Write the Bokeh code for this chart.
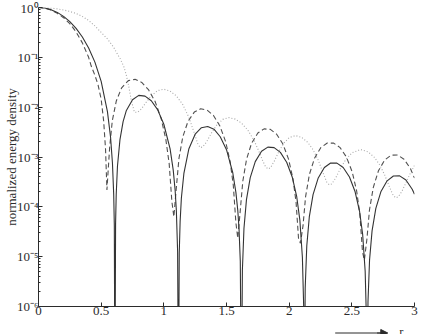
import numpy as np
from bokeh.plotting import figure
from bokeh.layouts import column
from bokeh.models import (Range1d, FixedTicker, CustomJSTickFormatter, Label,
                          Arrow, NormalHead, ColumnDataSource)
from bokeh.embed import file_html
from bokeh.resources import INLINE

# ---- data (log10 of normalized energy density) ----
solid_r = [0, 0.05, 0.1, 0.15, 0.2, 0.25, 0.3, 0.35, 0.4, 0.45, 0.5, 0.55, 0.575, 0.59, 0.6, 0.605, 0.6098,
           0.615, 0.62, 0.63, 0.65, 0.675, 0.7, 0.75, 0.8, 0.85, 0.9, 0.95, 1.0, 1.05, 1.075, 1.09, 1.1, 1.11, 1.1166,
           1.123, 1.13, 1.14, 1.16, 1.2, 1.25, 1.3, 1.35, 1.4, 1.45, 1.5, 1.55, 1.575, 1.59, 1.6, 1.61, 1.6192,
           1.6267, 1.6393, 1.6593, 1.6894, 1.7295, 1.7796, 1.8297, 1.8799, 1.93, 1.9801, 2.0252, 2.0603, 2.0854, 2.1055, 2.1155, 2.1205,
           2.128, 2.1405, 2.1606, 2.1906, 2.2307, 2.2808, 2.3309, 2.381, 2.4311, 2.4812, 2.5262, 2.5613, 2.5863, 2.6064, 2.6164, 2.6214,
           2.6289, 2.6414, 2.6614, 2.6915, 2.7315, 2.7816, 2.8316, 2.8817, 2.9317, 2.9818, 3.0]
solid_log10 = [0, -0.0107, -0.0432, -0.0983, -0.1775, -0.2833, -0.4195, -0.5922, -0.8113, -1.096, -1.484, -2.089, -2.603, -3.12, -3.75, -4.38, -8,
               -4.34, -3.758, -3.186, -2.651, -2.290, -2.0725, -1.850, -1.764, -1.778, -1.871, -2.049, -2.343, -2.837, -3.264, -3.663, -4.08, -4.90, -8,
               -4.93, -4.293, -3.822, -3.330, -2.834, -2.542, -2.4115, -2.387, -2.442, -2.594, -2.8535, -3.316, -3.710, -4.07, -4.445, -5.09, -8,
               -5.2755, -4.4354, -3.8561, -3.4124, -3.0924, -2.8856, -2.8024, -2.8117, -2.9075, -3.1041, -3.4074, -3.7974, -4.2677, -5.0105, -5.9695, -8,
               -5.6287, -4.7862, -4.2031, -3.7540, -3.4272, -3.2120, -3.1210, -3.1227, -3.2114, -3.4012, -3.6985, -4.0841, -4.5513, -5.2917, -6.2495, -8,
               -5.9114, -5.0675, -4.4821, -4.0297, -3.6984, -3.4780, -3.3819, -3.3788, -3.4627, -3.6480, -3.7485]

dashed_r = [0, 0.05, 0.1, 0.15, 0.2, 0.25, 0.3, 0.35, 0.4, 0.42, 0.45, 0.475, 0.5, 0.52, 0.535, 0.546,
            0.5674, 0.5887, 0.6208, 0.6635, 0.7169, 0.7703, 0.8237, 0.8771, 0.9305, 0.9785, 1.0159, 1.0426, 1.064, 1.08,
            1.1004, 1.1208, 1.1514, 1.1922, 1.2432, 1.2942, 1.3452, 1.3962, 1.4472, 1.4931, 1.5288, 1.5543, 1.5747, 1.59,
            1.61, 1.63, 1.66, 1.70, 1.75, 1.80, 1.85, 1.90, 1.95, 1.995, 2.03, 2.055, 2.075, 2.09,
            2.1104, 2.1308, 2.1614, 2.2022, 2.2532, 2.3042, 2.3552, 2.4062, 2.4572, 2.5031, 2.5388, 2.5643, 2.5847, 2.60,
            2.6204, 2.6408, 2.6714, 2.7122, 2.7632, 2.8142, 2.8652, 2.9162, 2.9672, 3.0]
dashed_log10 = [0, -0.013, -0.052, -0.117, -0.205, -0.325, -0.49, -0.71, -1.0, -1.17, -1.36, -1.55, -1.84, -2.28, -2.85, -3.66,
                -2.820, -2.273, -1.875, -1.611, -1.468, -1.442, -1.504, -1.647, -1.887, -2.227, -2.643, -3.132, -3.889, -4.2,
                -3.597, -3.026, -2.594, -2.289, -2.099, -2.032, -2.057, -2.167, -2.377, -2.691, -3.090, -3.566, -4.313, -4.63,
                -4.067, -3.488, -3.045, -2.725, -2.519, -2.436, -2.446, -2.542, -2.739, -3.042, -3.433, -3.904, -4.646, -4.73,
                -4.382, -3.799, -3.350, -3.024, -2.810, -2.720, -2.722, -2.811, -3.002, -3.300, -3.687, -4.154, -4.895, -5.07,
                -4.645, -4.060, -3.608, -3.277, -3.057, -2.962, -2.960, -3.044, -3.230, -3.424]

dotted_r = [0, 0.05, 0.1, 0.15, 0.2, 0.25, 0.3, 0.35, 0.4, 0.45, 0.5, 0.55, 0.6, 0.633, 0.65, 0.68, 0.7, 0.72, 0.74, 0.765,
            0.79, 0.82, 0.86, 0.9, 0.95, 1.0, 1.05, 1.1, 1.15, 1.2, 1.24, 1.27, 1.29,
            1.31, 1.34, 1.38, 1.42, 1.47, 1.52, 1.57, 1.62, 1.67, 1.72, 1.76, 1.79, 1.81, 1.83,
            1.85, 1.88, 1.92, 1.96, 2.0, 2.05, 2.1, 2.15, 2.19, 2.23, 2.27, 2.3, 2.32,
            2.34, 2.37, 2.41, 2.45, 2.5, 2.57, 2.63, 2.68, 2.72, 2.76, 2.8, 2.83, 2.85,
            2.87, 2.9, 2.94, 2.97, 3.0]
dotted_log10 = [0, -0.003, -0.012, -0.028, -0.05, -0.08, -0.12, -0.18, -0.26, -0.37, -0.50, -0.63, -0.80, -0.95, -1.02, -1.18, -1.35, -1.58, -1.86, -2.10,
                -2.104, -2.038, -1.899, -1.770, -1.6675, -1.64, -1.678, -1.774, -1.943, -2.2056, -2.498, -2.728, -2.81,
                -2.799, -2.701, -2.519, -2.365, -2.245, -2.21, -2.240, -2.320, -2.459, -2.669, -2.894, -3.082, -3.187, -3.24,
                -3.219, -3.090, -2.879, -2.714, -2.611, -2.57, -2.606, -2.711, -2.852, -3.053, -3.314, -3.502, -3.56,
                -3.541, -3.426, -3.2256, -3.0565, -2.917, -2.85, -2.897, -3.006, -3.148, -3.3477, -3.598, -3.77, -3.82,
                -3.80, -3.69, -3.47, -3.31, -3.17]

x_ticks = [0, 0.5, 1, 1.5, 2, 2.5, 3]
y_decades = [-6, -5, -4, -3, -2, -1, 0]
y_title = "normalized energy density"
x_title = "r"

SERIF = "Liberation Serif"
INK = "#2b2b2b"
W = 422
H_MAIN = 320
H_STRIP = 14

p = figure(width=W, height=H_MAIN, y_axis_type="log",
           x_range=Range1d(0, 3), y_range=Range1d(1e-6, 1),
           output_backend="svg", toolbar_location=None,
           min_border_left=38, min_border_right=8, min_border_top=7, min_border_bottom=14)
p.outline_line_color = None
p.xgrid.grid_line_color = None
p.ygrid.grid_line_color = None
p.background_fill_color = "white"
p.border_fill_color = "white"

def src(r, lg):
    return ColumnDataSource(dict(r=r, e=np.power(10.0, np.array(lg, dtype=float))))

p.line("r", "e", source=src(dotted_r, dotted_log10), line_color="#a8a8a8", line_width=1.1, line_dash="1 2")
p.line("r", "e", source=src(dashed_r, dashed_log10), line_color="#505050", line_width=1.1, line_dash="5 3")
p.line("r", "e", source=src(solid_r, solid_log10), line_color="#333333", line_width=1.1)

# axes
for ax in (p.xaxis, p.yaxis):
    ax.axis_line_color = INK
    ax.major_tick_line_color = INK
    ax.minor_tick_line_color = INK
    ax.major_tick_out = 0
    ax.minor_tick_out = 0
    ax.major_label_text_font = SERIF
    ax.major_label_text_font_size = "13px"
    ax.major_label_text_color = INK
    ax.axis_label_text_font = SERIF
    ax.axis_label_text_font_style = "normal"
    ax.axis_label_text_color = INK

p.xaxis.ticker = FixedTicker(ticks=x_ticks)
p.xaxis.major_tick_in = 4
p.xaxis.minor_tick_in = 0
p.xaxis.major_label_standoff = 0

p.yaxis.ticker = FixedTicker(ticks=[10.0 ** k for k in y_decades],
                             minor_ticks=[m * 10.0 ** k for k in y_decades[:-1] for m in range(2, 10)])
p.yaxis.major_tick_in = 4
p.yaxis.minor_tick_in = 2
p.yaxis.major_label_standoff = 0
p.yaxis.formatter = CustomJSTickFormatter(code="""
const e = Math.round(Math.log10(tick));
const m = {"-":"⁻","0":"⁰","1":"¹","2":"²","3":"³","4":"⁴","5":"⁵","6":"⁶","7":"⁷","8":"⁸","9":"⁹"};
return "10" + String(e).split("").map(c => m[c]).join("");
""")
p.yaxis.axis_label = y_title
p.yaxis.axis_label_text_font_size = "13px"
p.yaxis.axis_label_standoff = -5

# strip below the chart carrying the "r" direction arrow
s = figure(width=W, height=H_STRIP, x_range=Range1d(0, W), y_range=Range1d(0, H_STRIP),
           output_backend="svg", toolbar_location=None,
           x_axis_location=None, y_axis_location=None,
           min_border_left=0, min_border_right=0, min_border_top=0, min_border_bottom=0)
s.outline_line_color = None
s.xgrid.grid_line_color = None
s.ygrid.grid_line_color = None
s.segment(x0=[333], y0=[1.5], x1=[387], y1=[1.5], line_color=INK, line_width=1)
s.add_layout(Arrow(end=NormalHead(size=7, fill_color=INK, line_color=INK, line_width=1),
                   x_start=380, y_start=1.5, x_end=392, y_end=1.5,
                   line_color=INK, line_width=1))
s.add_layout(Label(x=405, y=2.5, text=x_title, text_font=SERIF, text_font_size="12.5px",
                   text_color=INK, text_baseline="alphabetic", text_align="left"))

layout = column(p, s, spacing=0)
open("out.html", "w").write(file_html(layout, INLINE))
